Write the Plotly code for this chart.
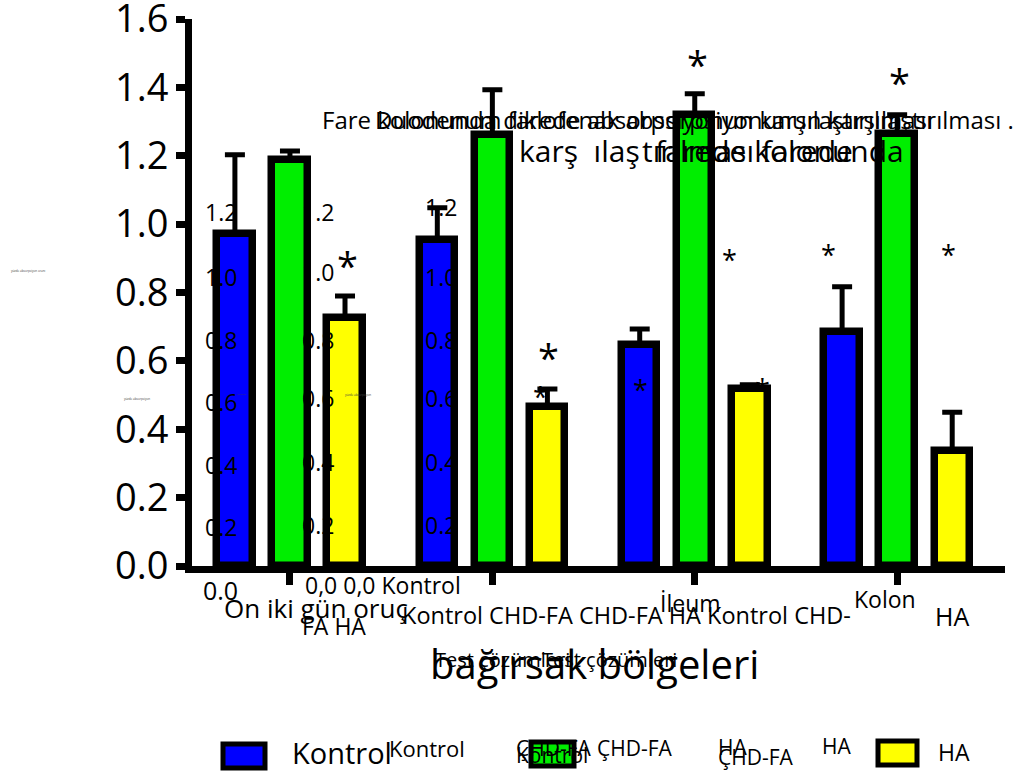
import plotly.graph_objects as go

# ---- data -------------------------------------------------------------
groups = ["On iki gün oruç", "Duodenum", "İleum", "Kolon"]
series_names = ["Kontrol", "CHD-FA", "HA"]
kontrol_vals = [0.972, 0.954, 0.647, 0.685]
kontrol_err = [0.231, 0.094, 0.046, 0.132]
chdfa_vals = [1.188, 1.261, 1.320, 1.264]
chdfa_err = [0.026, 0.132, 0.061, 0.056]
ha_vals = [0.726, 0.465, 0.518, 0.337]
ha_err = [0.064, 0.053, 0.012, 0.113]
y_ticks = [0.0, 0.2, 0.4, 0.6, 0.8, 1.0, 1.2, 1.4, 1.6]

colors = ["#0000ff", "#00ee00", "#ffff00"]
offsets = [-0.272, 0.0, 0.272]
bar_w = 0.175

W, H = 1020, 774
L, R, T, B = 192, 15, 19, 208
PW, PH = W - L - R, H - T - B


def px(x):
    return (x - L) / PW


def py(y):
    return (H - B - y) / PH


fig = go.Figure()
for name, vals, errs, col, off in zip(
    series_names,
    [kontrol_vals, chdfa_vals, ha_vals],
    [kontrol_err, chdfa_err, ha_err],
    colors,
    offsets,
):
    fig.add_trace(
        go.Bar(
            x=[i + off for i in range(len(groups))],
            y=vals,
            width=bar_w,
            name=name,
            marker=dict(color=col, line=dict(color="black", width=7.5)),
            error_y=dict(
                type="data",
                array=errs,
                arrayminus=[0] * len(errs),
                symmetric=False,
                color="black",
                thickness=5,
                width=10,
            ),
            showlegend=False,
        )
    )

FONT = "Open Sans"
ann = []


def text(x, y, s, size, xanchor="center", color="black"):
    ann.append(
        dict(
            x=px(x), y=py(y), xref="paper", yref="paper", text=s,
            showarrow=False, xanchor=xanchor, yanchor="middle",
            font=dict(family=FONT, size=size, color=color),
        )
    )


# title lines (overlapping)
text(320, 119, "Fare kolonunda diklofenak absorpsiyonunun karşılaştırılması .", 24, "left")
text(373, 119, "Duodenum farede absorpsiyonun karşılaştırılması", 24, "left")
text(517, 150, "karş  ılaş  farede kolonunda", 30, "left")
text(640, 150, "tırılması farede", 30, "left")

# inner tick label columns
inner_vals = ["1.2", "1.0", "0.8", "0.6", "0.4", "0.2"]
inner_y1 = [212, 277, 340, 402, 465, 527]
inner_y2 = [212, 272, 340, 398, 462, 525]
inner_y3 = [207, 277, 340, 398, 462, 525]
for s, y in zip(inner_vals, inner_y1):
    text(221, y, s, 23)
for s, y in zip(inner_vals, inner_y2):
    text(318, y, s, 23)
for s, y in zip(inner_vals, inner_y3):
    text(441, y, s, 23)

# asterisks
for x, y, s in [(347, 255, 38), (548, 347, 38), (697, 55, 38), (899, 72, 38)]:
    text(x, y + 0.25 * s, "*", s)
for x, y, s in [(540, 390, 27), (640, 383, 27), (762, 382, 27),
                (729, 253, 27), (828, 248, 27), (948, 248, 27)]:
    text(x, y + 0.25 * s, "*", s)

# tiny marks
text(28, 271, "yüzde absorpsiyon oranı", 3, color="#444")
text(137, 399, "yüzde absorpsiyon", 3, color="#444")
text(358, 395, "yüzde absorpsiyon", 3, color="#444")
text(241, 394, "———", 3, color="#444")

# category labels
text(220, 590, "0.0", 25)
text(222, 608, "On iki gün oruç", 26, "left")
text(303, 585, "0,0 0,0 Kontrol", 23, "left")
text(300, 626, "FA HA", 23, "left")
text(400, 615, "Kontrol CHD-FA CHD-FA HA Kontrol CHD-", 23.5, "left")
text(690, 603, "İleum", 23)
text(885, 599, "Kolon", 23)
text(952, 616, "HA", 25)

# axis title
text(594, 663, "bağırsak bölgeleri", 40)
text(433, 659, "Test çözümleri", 20, "left")
text(540, 659, "Test çözümleri", 20, "left")

# legend
shapes = []
for (x0, x1, y0, y1), col in zip(
    [(223, 265, 744, 768), (531, 574, 742, 766), (878, 917, 741, 765)], colors
):
    shapes.append(
        dict(type="rect", xref="paper", yref="paper",
             x0=px(x0), x1=px(x1), y0=py(y1), y1=py(y0),
             fillcolor=col, line=dict(color="black", width=5))
    )
text(290, 752, "Kontrol", 29, "left")
text(387, 748, "Kontrol", 22, "left")
text(514, 755, "Kontrol", 21, "left")
text(514, 748, "ÇHD-FA", 21, "left")
text(595, 748, "ÇHD-FA", 21, "left")
text(716, 747, "HA", 21, "left")
text(716, 757, "ÇHD-FA", 21, "left")
text(820, 746, "HA", 21, "left")
text(936, 752, "HA", 23, "left")

fig.update_layout(
    width=W, height=H,
    margin=dict(l=L, r=R, t=T, b=B, pad=0, autoexpand=False),
    paper_bgcolor="white", plot_bgcolor="white",
    bargap=0, barmode="overlay",
    annotations=ann, shapes=shapes,
    xaxis=dict(
        range=[-0.484, -0.484 + PW / 202.4],
        tickvals=list(range(len(groups))), ticktext=[""] * len(groups),
        ticks="outside", ticklen=12, tickwidth=7, tickcolor="black",
        showline=True, linewidth=7, linecolor="black",
        showgrid=False, zeroline=False, automargin=False,
    ),
    yaxis=dict(
        range=[0, 1.6], tickvals=y_ticks,
        ticktext=[f"{v:.1f}" for v in y_ticks],
        ticks="outside", ticklen=9, tickwidth=7, tickcolor="black",
        showline=True, linewidth=7, linecolor="black",
        showgrid=False, zeroline=False, automargin=False,
        ticklabeloverflow="allow",
        tickfont=dict(family=FONT, size=38, color="black"),
    ),
)

fig.write_html("out.html")
